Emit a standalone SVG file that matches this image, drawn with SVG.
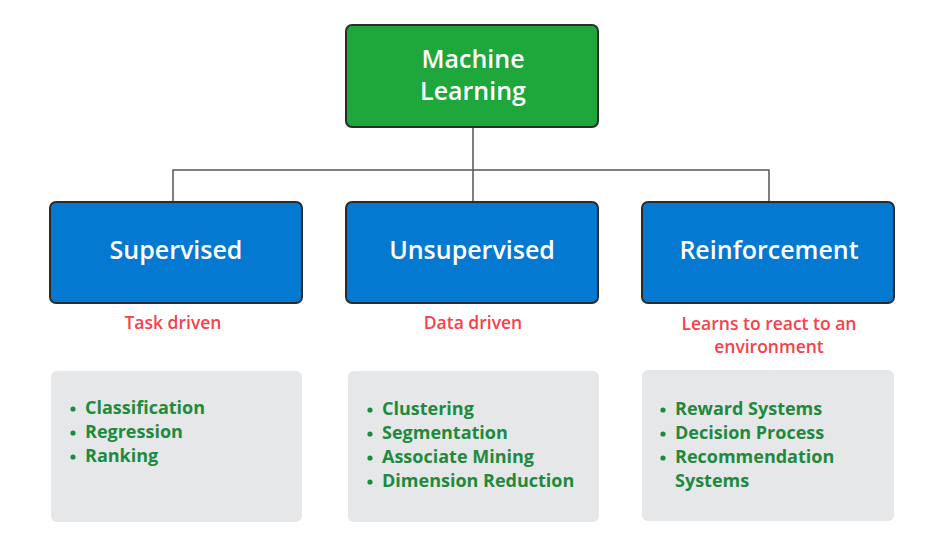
<svg xmlns="http://www.w3.org/2000/svg" width="940" height="549" viewBox="0 0 940 549">
<style>
.node{stroke:#2b2b2b;stroke-width:2}
.green{fill:#1ea83c}
.blue{fill:#0479d1}
.gray{fill:#e6e7e9}
.title{font-family:"Open Sans",sans-serif;font-weight:600;font-size:25px;fill:#fff;text-anchor:middle}
.sub{font-family:"Open Sans",sans-serif;font-weight:600;font-size:17.5px;fill:#f5424b;text-anchor:middle}
.item{font-family:"Open Sans",sans-serif;font-weight:700;font-size:18px;fill:#1e8a3e}
.dot{fill:#1e8a3e}
.conn{fill:none;stroke:#555;stroke-width:1.5}
</style>
<rect width="940" height="549" fill="#fff"/>
<g id="connectors">
<path class="conn" d="M473 127V170M173 202V170H769V202M473 170V202"/>
</g>
<g id="ml">
<rect class="node green" x="346" y="25" width="252" height="102" rx="6"/>
<text class="title" x="473" y="68">Machine</text>
<text class="title" x="473" y="100">Learning</text>
</g>
<g id="supervised">
<rect class="node blue" x="50" y="202" width="252" height="101" rx="6"/>
<text class="title" x="176" y="259">Supervised</text>
<text class="sub" x="173" y="329">Task driven</text>
</g>
<g id="unsupervised">
<rect class="node blue" x="346" y="202" width="252" height="101" rx="6"/>
<text class="title" x="472" y="259">Unsupervised</text>
<text class="sub" x="473" y="329">Data driven</text>
</g>
<g id="reinforcement">
<rect class="node blue" x="642" y="202" width="252" height="101" rx="6"/>
<text class="title" x="769" y="259">Reinforcement</text>
<text class="sub" x="769" y="330">Learns to react to an</text>
<text class="sub" x="769" y="353">environment</text>
</g>
<g id="sup-list">
<rect class="gray" x="51" y="371" width="251" height="151" rx="6"/>
<circle class="dot" cx="73" cy="409" r="2.6"/>
<circle class="dot" cx="73" cy="433" r="2.6"/>
<circle class="dot" cx="73" cy="457" r="2.6"/>
<text class="item" x="85" y="414">Classification</text>
<text class="item" x="85" y="438">Regression</text>
<text class="item" x="85" y="462">Ranking</text>
</g>
<g id="unsup-list">
<rect class="gray" x="348" y="371" width="251" height="151" rx="6"/>
<circle class="dot" cx="370" cy="410" r="2.6"/>
<circle class="dot" cx="370" cy="434" r="2.6"/>
<circle class="dot" cx="370" cy="458" r="2.6"/>
<circle class="dot" cx="370" cy="482" r="2.6"/>
<text class="item" x="382" y="415">Clustering</text>
<text class="item" x="382" y="439">Segmentation</text>
<text class="item" x="382" y="463">Associate Mining</text>
<text class="item" x="382" y="487">Dimension Reduction</text>
</g>
<g id="reinf-list">
<rect class="gray" x="642" y="370" width="252" height="151" rx="6"/>
<circle class="dot" cx="663" cy="410" r="2.6"/>
<circle class="dot" cx="663" cy="434" r="2.6"/>
<circle class="dot" cx="663" cy="458" r="2.6"/>
<text class="item" x="675" y="415">Reward Systems</text>
<text class="item" x="675" y="439">Decision Process</text>
<text class="item" x="675" y="463">Recommendation</text>
<text class="item" x="675" y="487">Systems</text>
</g>
</svg>
